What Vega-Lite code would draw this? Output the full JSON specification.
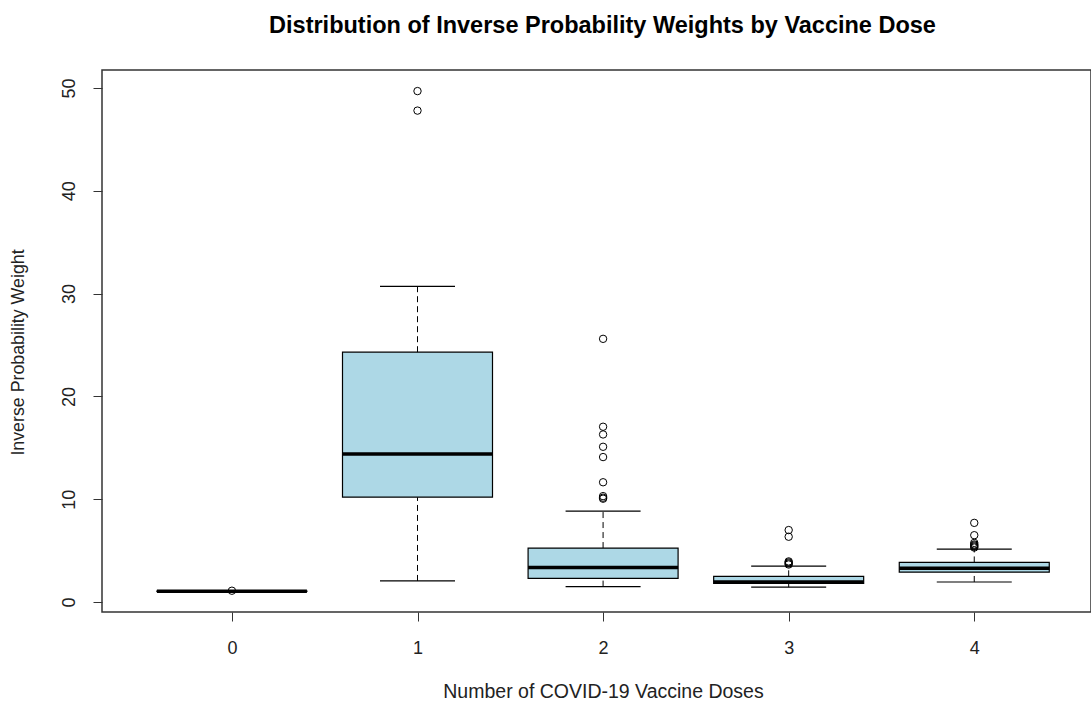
{
  "$schema": "https://vega.github.io/schema/vega-lite/v6.json",
  "width": 989,
  "height": 542,
  "autosize": {"type": "none"},
  "padding": {"left": 102, "top": 70, "right": 0, "bottom": 92},
  "background": "white",
  "title": {
    "text": "Distribution of Inverse Probability Weights by Vaccine Dose",
    "font": "Liberation Sans",
    "fontSize": 23.5,
    "fontWeight": "bold",
    "color": "black",
    "anchor": "middle",
    "dx": 6,
    "offset": 33
  },
  "config": {
    "view": {"stroke": "#333333", "strokeWidth": 1.5},
    "axis": {
      "grid": false,
      "domain": false,
      "tickColor": "#333333",
      "tickSize": 9,
      "tickWidth": 1,
      "labelFont": "Liberation Sans",
      "labelFontSize": 18,
      "labelColor": "#222222",
      "titleFont": "Liberation Sans",
      "titleFontWeight": "normal",
      "titleColor": "#222222"
    }
  },
  "datasets": {
    "boxes": [
      {"dose": 0, "lower": 1.02, "q1": 1.04, "median": 1.05, "q3": 1.06, "upper": 1.08},
      {"dose": 1, "lower": 2.05, "q1": 10.2, "median": 14.4, "q3": 24.3, "upper": 30.7},
      {"dose": 2, "lower": 1.5, "q1": 2.3, "median": 3.35, "q3": 5.25, "upper": 8.85},
      {"dose": 3, "lower": 1.45, "q1": 1.8, "median": 1.95, "q3": 2.5, "upper": 3.5},
      {"dose": 4, "lower": 1.95, "q1": 2.9, "median": 3.28, "q3": 3.85, "upper": 5.15}
    ],
    "outliers": [
      {"dose": 0, "value": 1.1},
      {"dose": 1, "value": 49.7},
      {"dose": 1, "value": 47.8},
      {"dose": 2, "value": 25.6},
      {"dose": 2, "value": 17.05},
      {"dose": 2, "value": 16.3},
      {"dose": 2, "value": 15.1},
      {"dose": 2, "value": 14.1},
      {"dose": 2, "value": 11.65},
      {"dose": 2, "value": 10.3},
      {"dose": 2, "value": 10.15},
      {"dose": 2, "value": 10.05},
      {"dose": 3, "value": 7.0},
      {"dose": 3, "value": 6.35},
      {"dose": 3, "value": 3.95},
      {"dose": 3, "value": 3.85},
      {"dose": 3, "value": 3.75},
      {"dose": 3, "value": 3.65},
      {"dose": 4, "value": 7.7},
      {"dose": 4, "value": 6.5},
      {"dose": 4, "value": 5.75},
      {"dose": 4, "value": 5.6},
      {"dose": 4, "value": 5.5},
      {"dose": 4, "value": 5.4},
      {"dose": 4, "value": 5.3}
    ]
  },
  "encoding": {
    "x": {
      "field": "dose",
      "type": "quantitative",
      "scale": {"domain": [-0.7, 4.629], "nice": false, "zero": false, "padding": 0},
      "axis": {
        "values": [0, 1, 2, 3, 4],
        "format": "d",
        "labelPadding": 18,
        "titlePadding": 25,
        "titleFontSize": 19.5,
        "titleX": 501,
        "title": "Number of COVID-19 Vaccine Doses"
      }
    }
  },
  "layer": [
    {
      "data": {"name": "boxes"},
      "mark": {"type": "rule", "color": "black", "strokeWidth": 1, "strokeDash": [6, 4]},
      "encoding": {
        "y": {
          "field": "lower",
          "type": "quantitative",
          "title": "Inverse Probability Weight",
          "scale": {"domain": [-0.97, 51.75], "nice": false, "zero": false, "padding": 0},
          "axis": {
            "values": [0, 10, 20, 30, 40, 50],
            "labelAngle": -90,
            "labelAlign": "center",
            "labelBaseline": "bottom",
            "labelPadding": 15,
            "titlePadding": 33,
            "titleFontSize": 17.8,
            "titleY": 282
          }
        },
        "y2": {"field": "q1"}
      }
    },
    {
      "data": {"name": "boxes"},
      "mark": {"type": "rule", "color": "black", "strokeWidth": 1, "strokeDash": [6, 4]},
      "encoding": {
        "y": {"field": "q3", "type": "quantitative", "title": "Inverse Probability Weight"},
        "y2": {"field": "upper"}
      }
    },
    {
      "data": {"name": "boxes"},
      "mark": {"type": "tick", "orient": "horizontal", "color": "black", "size": 75, "thickness": 1.2, "opacity": 1},
      "encoding": {
        "y": {"field": "lower", "type": "quantitative", "title": "Inverse Probability Weight"}
      }
    },
    {
      "data": {"name": "boxes"},
      "mark": {"type": "tick", "orient": "horizontal", "color": "black", "size": 75, "thickness": 1.2, "opacity": 1},
      "encoding": {
        "y": {"field": "upper", "type": "quantitative", "title": "Inverse Probability Weight"}
      }
    },
    {
      "data": {"name": "boxes"},
      "mark": {"type": "bar", "orient": "vertical", "size": 150, "fill": "#ADD8E6", "stroke": "black", "strokeWidth": 1.2},
      "encoding": {
        "y": {"field": "q1", "type": "quantitative", "title": "Inverse Probability Weight"},
        "y2": {"field": "q3"}
      }
    },
    {
      "data": {"name": "boxes"},
      "mark": {"type": "tick", "orient": "horizontal", "color": "black", "size": 150, "thickness": 3.5, "opacity": 1},
      "encoding": {
        "y": {"field": "median", "type": "quantitative", "title": "Inverse Probability Weight"}
      }
    },
    {
      "data": {"name": "outliers"},
      "mark": {"type": "point", "shape": "circle", "filled": false, "stroke": "black", "strokeWidth": 1, "size": 55, "opacity": 1},
      "encoding": {
        "y": {"field": "value", "type": "quantitative", "title": "Inverse Probability Weight"}
      }
    }
  ]
}
